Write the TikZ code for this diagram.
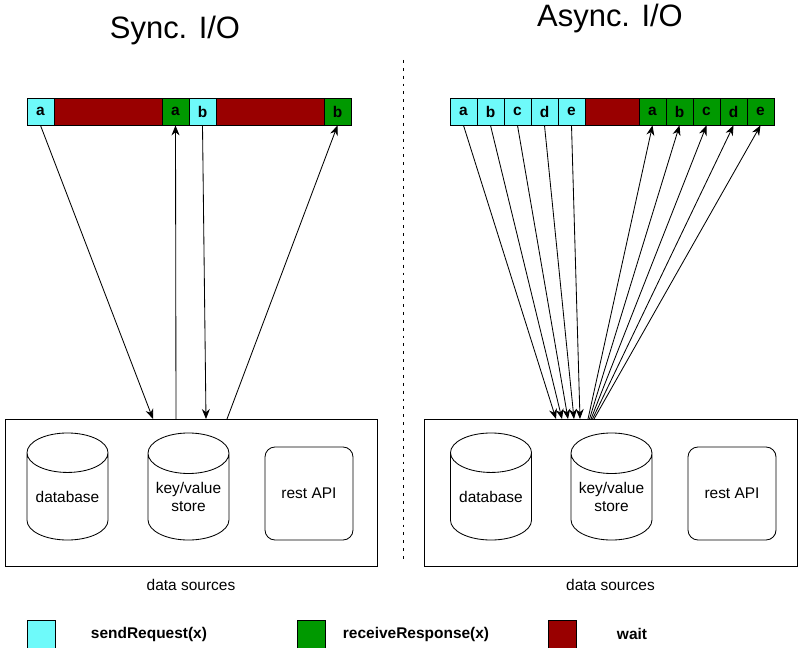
\documentclass[tikz,border=0pt]{standalone}
\usepackage{fontspec}
\setmainfont{Liberation Sans}
\usetikzlibrary{arrows.meta, positioning, shapes.geometric}
\definecolor{sendcol}{RGB}{110,250,250}
\definecolor{recvcol}{RGB}{0,153,0}
\definecolor{waitcol}{RGB}{153,0,0}

\begin{document}
\begin{tikzpicture}[x=0.025cm, y=-0.025cm, font=\fontsize{11}{13}\selectfont]
        % Setup the styles for the cells and the sources
        \tikzset{cell style/.style={draw, semithick,
                                    minimum width=0.675cm,
                                    minimum height=0.675cm,
                                    inner sep=0pt,
                                    font=\fontsize{11}{13}\selectfont\bfseries},
                 send style/.style={cell style, fill=sendcol},
                 recv style/.style={cell style, fill=recvcol},
                 wait style/.style={cell style, fill=waitcol},
                 db style/.style={draw, semithick, cylinder,
                                  shape border rotate=90, aspect=0.62,
                                  minimum width=2.025cm,
                                  minimum height=2.675cm,
                                  inner sep=0pt, align=center,
                                  anchor=shape center},
                 api style/.style={draw, semithick, rounded corners=0.25cm,
                                   minimum width=2.2cm,
                                   minimum height=2.325cm},
                 source style/.style={draw, semithick,
                                      minimum width=9.3cm,
                                      minimum height=3.675cm},
                 arrow style/.style={semithick,
                                     -{Stealth[length=0.25cm, width=0.2cm]}}}
        \useasboundingbox (0,0) rectangle (800,648);

        % Titles
        \node[font=\fontsize{22}{26}\selectfont] at (175, 31) (synctitle) {Sync. I/O};
        \node[font=\fontsize{22}{26}\selectfont] at (610, 19) (asynctitle) {Async. I/O};

        % Draw the sync bar
        \node[send style] at (40.5, 111.5) (sa) {a};
        \node[wait style, minimum width=2.7cm] at (108, 111.5) (sw1) {};
        \node[recv style] at (175.5, 111.5) (sga) {a};
        \node[send style] at (202.5, 111.5) (sb) {b};
        \node[wait style, minimum width=2.7cm] at (270, 111.5) (sw2) {};
        \node[recv style] at (337.5, 111.5) (sgb) {b};

        % Draw the async bar
        \node[send style] at (463.5, 111.5) (aa) {a};
        \node[send style] at (490.5, 111.5) (ab) {b};
        \node[send style] at (517.5, 111.5) (ac) {c};
        \node[send style] at (544.5, 111.5) (ad) {d};
        \node[send style] at (571.5, 111.5) (ae) {e};
        \node[wait style, minimum width=1.35cm] at (612, 111.5) (aw) {};
        \node[recv style] at (652.5, 111.5) (aga) {a};
        \node[recv style] at (679.5, 111.5) (agb) {b};
        \node[recv style] at (706.5, 111.5) (agc) {c};
        \node[recv style] at (733.5, 111.5) (agd) {d};
        \node[recv style] at (760.5, 111.5) (age) {e};

        % Divider
        \coordinate (divtop) at (403, 60);
        \coordinate (divbot) at (403, 562);
        \draw[semithick, dash pattern=on 2pt off 3.6pt] (divtop) -- (divbot);

        % Draw the data sources
        \node[source style] at (191, 492.5) (syncsrc) {};
        \node[db style] at (67.5, 486.5) (syncdb) {database};
        \node[db style] at (188.5, 486.5) (synckv) {key/value\\store};
        \node[api style] at (309, 493.5) (syncapi) {rest API};
        \node at (191, 585) (syncsrclabel) {data sources};

        \node[source style, minimum width=9.325cm] at (610.5, 492.5) (asyncsrc) {};
        \node[db style] at (491, 486.5) (asyncdb) {database};
        \node[db style] at (611.5, 486.5) (asynckv) {key/value\\store};
        \node[api style] at (732, 493.5) (asyncapi) {rest API};
        \node at (610.5, 585) (asyncsrclabel) {data sources};

        % Ends of the arrows on the sources
        \coordinate (s1) at (153, 419);
        \coordinate (s2) at (176, 419);
        \coordinate (s3) at (206, 419);
        \coordinate (s4) at (227, 419);
        \coordinate (in1) at (556, 419);
        \coordinate (in2) at (562, 419);
        \coordinate (in3) at (568, 419);
        \coordinate (in4) at (574, 419);
        \coordinate (in5) at (580, 419);
        \coordinate (out1) at (588, 419);
        \coordinate (out2) at (589.5, 419);
        \coordinate (out3) at (591, 419);
        \coordinate (out4) at (592.5, 419);
        \coordinate (out5) at (594, 419);

        % Connect the cells with the sources
        \draw[arrow style] (sa.south) -- (s1);
        \draw[arrow style] (s2) -- (sga.south);
        \draw[arrow style] (sb.south) -- (s3);
        \draw[arrow style] (s4) -- (sgb.south);

        \draw[arrow style] (aa.south) -- (in1);
        \draw[arrow style] (ab.south) -- (in2);
        \draw[arrow style] (ac.south) -- (in3);
        \draw[arrow style] (ad.south) -- (in4);
        \draw[arrow style] (ae.south) -- (in5);
        \draw[arrow style] (out1) -- (aga.south);
        \draw[arrow style] (out2) -- (agb.south);
        \draw[arrow style] (out3) -- (agc.south);
        \draw[arrow style] (out4) -- (agd.south);
        \draw[arrow style] (out5) -- (age.south);

        % Legend
        \node[send style, minimum width=0.7cm, minimum height=0.7cm] at (41, 634) (legsend) {};
        \node[anchor=west, font=\fontsize{11}{13}\selectfont\bfseries] at (86, 634) (legsendtext) {sendRequest(x)};
        \node[recv style, minimum width=0.7cm, minimum height=0.7cm] at (311.5, 634) (legrecv) {};
        \node[anchor=west, font=\fontsize{11}{13}\selectfont\bfseries] at (338, 634) (legrecvtext) {receiveResponse(x)};
        \node[wait style, minimum width=0.7cm, minimum height=0.7cm] at (562, 634) (legwait) {};
        \node[anchor=west, font=\fontsize{11}{13}\selectfont\bfseries] at (612, 634) (legwaittext) {wait};
\end{tikzpicture}
\end{document}
